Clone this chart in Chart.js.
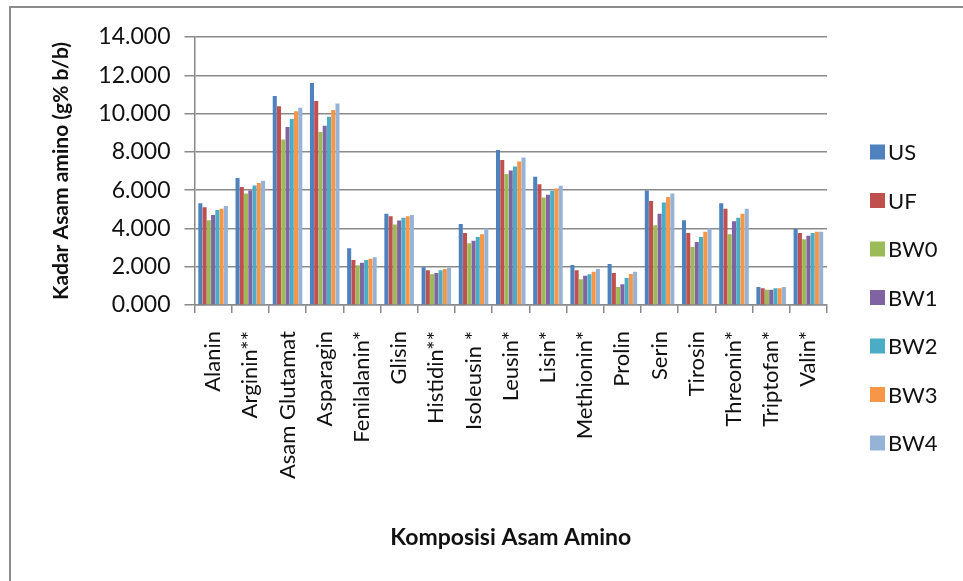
<!DOCTYPE html>
<html>
<head>
<meta charset="utf-8">
<script src="https://cdn.jsdelivr.net/npm/chart.js@4.4.1/dist/chart.umd.min.js"></script>
<style>
  html, body { margin: 0; padding: 0; background: #fff; }
  #wrap { position: relative; width: 963px; height: 581px; overflow: hidden; }
  #frame { position: absolute; left: 9px; top: 6px; width: 1000px; height: 700px;
           border-left: 2px solid #8c8c8c; border-top: 2px solid #8c8c8c; }
  canvas { position: absolute; left: 0; top: 0; }
</style>
</head>
<body>
<div id="wrap">
  <div id="frame"></div>
  <canvas id="chart" width="963" height="581"></canvas>
</div>
<script>
// Amino acid composition (g% b/b) per sample
const categories = ['Alanin', 'Arginin**', 'Asam Glutamat', 'Asparagin', 'Fenilalanin*', 'Glisin',
  'Histidin**', 'Isoleusin *', 'Leusin*', 'Lisin*', 'Methionin*', 'Prolin', 'Serin', 'Tirosin',
  'Threonin*', 'Triptofan*', 'Valin*'];

const seriesNames = ['US', 'UF', 'BW0', 'BW1', 'BW2', 'BW3', 'BW4'];

const US  = [5.31, 6.63, 10.92, 11.60, 2.96, 4.77, 1.97, 4.23, 8.10, 6.70, 2.09, 2.14, 5.98, 4.43, 5.31, 0.94, 3.97];
const UF  = [5.10, 6.16, 10.38, 10.66, 2.35, 4.63, 1.81, 3.76, 7.57, 6.31, 1.81, 1.67, 5.43, 3.76, 5.03, 0.87, 3.76];
const BW0 = [4.43, 5.83, 8.64, 9.04, 2.07, 4.21, 1.60, 3.22, 6.84, 5.62, 1.34, 0.94, 4.16, 3.03, 3.69, 0.80, 3.43];
const BW1 = [4.70, 5.98, 9.30, 9.37, 2.21, 4.42, 1.67, 3.36, 7.03, 5.76, 1.53, 1.08, 4.77, 3.29, 4.37, 0.80, 3.62];
const BW2 = [4.96, 6.24, 9.71, 9.84, 2.35, 4.56, 1.81, 3.55, 7.24, 5.96, 1.60, 1.41, 5.36, 3.55, 4.56, 0.87, 3.76];
const BW3 = [5.03, 6.37, 10.12, 10.19, 2.42, 4.63, 1.88, 3.69, 7.50, 6.09, 1.74, 1.62, 5.64, 3.83, 4.77, 0.87, 3.83];
const BW4 = [5.17, 6.49, 10.31, 10.52, 2.49, 4.70, 1.95, 4.00, 7.71, 6.23, 1.88, 1.74, 5.83, 4.00, 5.03, 0.94, 3.83];

const seriesValues = [US, UF, BW0, BW1, BW2, BW3, BW4];
const seriesColors = ['#4f81bd', '#c0504d', '#9bbb59', '#8064a2', '#4bacc6', '#f79646', '#95b3d7'];

const yTitle = 'Kadar Asam amino (g% b/b)';
const xTitle = 'Komposisi Asam Amino';

const FONT = 'Lato, "Open Sans", sans-serif';
const GRID = '#8a8a8a';
const TEXT = '#111';

// Vertical legend on the right-hand side
const sideLegend = {
  id: 'sideLegend',
  afterDraw(chart) {
    const ctx = chart.ctx;
    ctx.save();
    ctx.font = '22px ' + FONT;
    ctx.textBaseline = 'middle';
    ctx.textAlign = 'left';
    chart.data.datasets.forEach((ds, i) => {
      const cy = 152 + i * 48.5;
      ctx.fillStyle = ds.backgroundColor;
      ctx.fillRect(870, cy - 7.5, 15, 15);
      ctx.fillStyle = TEXT;
      ctx.fillText(ds.label, 888, cy + 1);
    });
    ctx.restore();
  }
};

new Chart(document.getElementById('chart'), {
  type: 'bar',
  data: {
    labels: categories,
    datasets: seriesNames.map((name, i) => ({
      label: name,
      data: seriesValues[i],
      backgroundColor: seriesColors[i],
      borderWidth: 0,
      categoryPercentage: 0.8,
      barPercentage: 0.95
    }))
  },
  options: {
    responsive: false,
    animation: false,
    layout: { padding: { left: 12, top: 37, right: 136, bottom: 0 } },
    plugins: {
      legend: { display: false },
      tooltip: { enabled: false }
    },
    scales: {
      x: {
        grid: { offset: true, drawOnChartArea: false, drawTicks: true, tickLength: 8, color: GRID, lineWidth: 1.5 },
        border: { display: true, color: GRID, width: 1.5 },
        ticks: { color: TEXT, font: { family: FONT, size: 22 }, maxRotation: 90, minRotation: 90, padding: 18, autoSkip: false },
        title: { display: true, text: xTitle, color: TEXT, font: { family: FONT, size: 23, weight: 'bold' }, padding: { top: 0, bottom: 30 } },
        afterFit(scale) { scale.height = 276; }
      },
      y: {
        min: 0,
        max: 14,
        grid: { color: GRID, lineWidth: 1.5, tickLength: 10 },
        border: { display: true, color: GRID, width: 1.5 },
        ticks: { stepSize: 2, color: TEXT, font: { family: FONT, size: 23 }, padding: 14,
                 callback: v => Number(v).toFixed(3) },
        title: { display: true, text: yTitle, color: TEXT, font: { family: FONT, size: 21, weight: 'bold' }, padding: { top: 37, bottom: 0 } },
        afterFit(scale) { scale.width = 182.5; }
      }
    }
  },
  plugins: [sideLegend]
});
</script>
</body>
</html>
